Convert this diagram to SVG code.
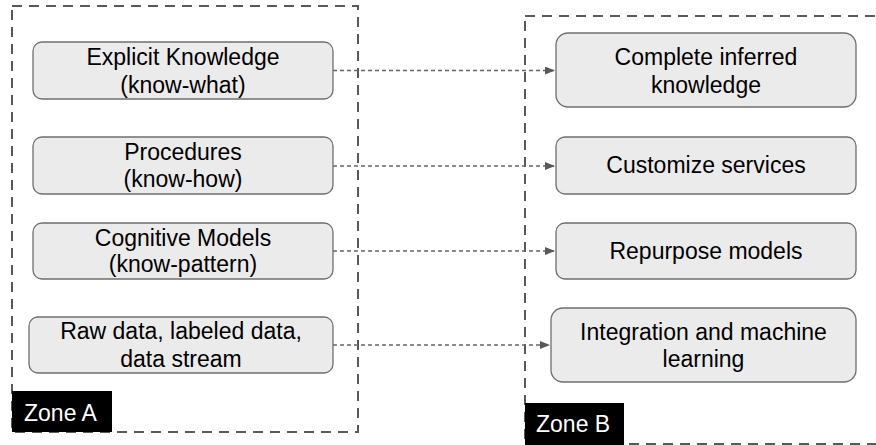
<svg xmlns="http://www.w3.org/2000/svg" width="876" height="445" viewBox="0 0 876 445">
<style>
.zone{fill:none;stroke:#595959;stroke-width:2;stroke-dasharray:10 7}
.zlab{fill:#000}
.zt{font-family:"Liberation Sans",Arial,sans-serif;font-size:23px;fill:#fff}
.node{fill:#ebebeb;stroke:#6f6f6f;stroke-width:1.3}
.t{font-family:"Liberation Sans",Arial,sans-serif;font-size:23px;fill:#000;text-anchor:middle}
.edge{fill:none;stroke:#666;stroke-width:1.3;stroke-dasharray:4 3}
</style>
<defs>
<marker id="ah" markerWidth="10" markerHeight="8" refX="10" refY="4" orient="auto" markerUnits="userSpaceOnUse">
<path d="M0,0 L10,4 L0,8 Z" fill="#595959"/>
</marker>
</defs>
<rect width="876" height="445" fill="#fff"/>
<g id="zoneA">
<rect class="zone" x="12" y="6" width="346" height="426"/>
<rect class="zlab" x="12" y="391" width="100" height="41"/>
<text class="zt" x="24" y="421">Zone A</text>
</g>
<g id="zoneB">
<rect class="zone" x="525" y="16" width="370" height="428"/>
<rect class="zlab" x="525" y="403" width="99" height="42"/>
<text class="zt" x="536" y="432">Zone B</text>
</g>
<g id="connectors">
<line class="edge" x1="333" y1="70.5" x2="555" y2="70.5" marker-end="url(#ah)"/>
<line class="edge" x1="333" y1="166" x2="555" y2="166" marker-end="url(#ah)"/>
<line class="edge" x1="333" y1="251" x2="555" y2="251" marker-end="url(#ah)"/>
<line class="edge" x1="333" y1="345" x2="550" y2="345" marker-end="url(#ah)"/>
</g>
<g id="explicit">
<rect class="node" x="33" y="42" width="300" height="57" rx="9"/>
<text class="t" x="183" y="65">Explicit Knowledge</text>
<text class="t" x="183" y="93">(know-what)</text>
</g>
<g id="procedures">
<rect class="node" x="33" y="137" width="300" height="57" rx="9"/>
<text class="t" x="183" y="160">Procedures</text>
<text class="t" x="183" y="187">(know-how)</text>
</g>
<g id="cognitive">
<rect class="node" x="33" y="223" width="300" height="56" rx="9"/>
<text class="t" x="183" y="246">Cognitive Models</text>
<text class="t" x="183" y="272">(know-pattern)</text>
</g>
<g id="rawdata">
<rect class="node" x="29" y="317" width="304" height="56" rx="9"/>
<text class="t" x="181" y="339">Raw data, labeled data,</text>
<text class="t" x="181" y="367">data stream</text>
</g>
<g id="complete">
<rect class="node" x="556" y="33" width="300" height="74" rx="12"/>
<text class="t" x="706" y="65">Complete inferred</text>
<text class="t" x="706" y="93">knowledge</text>
</g>
<g id="customize">
<rect class="node" x="556" y="137" width="300" height="57" rx="9"/>
<text class="t" x="706" y="173">Customize services</text>
</g>
<g id="repurpose">
<rect class="node" x="556" y="223" width="300" height="56" rx="9"/>
<text class="t" x="706" y="259">Repurpose models</text>
</g>
<g id="integration">
<rect class="node" x="551" y="308" width="305" height="74" rx="12"/>
<text class="t" x="703.5" y="340">Integration and machine</text>
<text class="t" x="703.5" y="367">learning</text>
</g>
</svg>
